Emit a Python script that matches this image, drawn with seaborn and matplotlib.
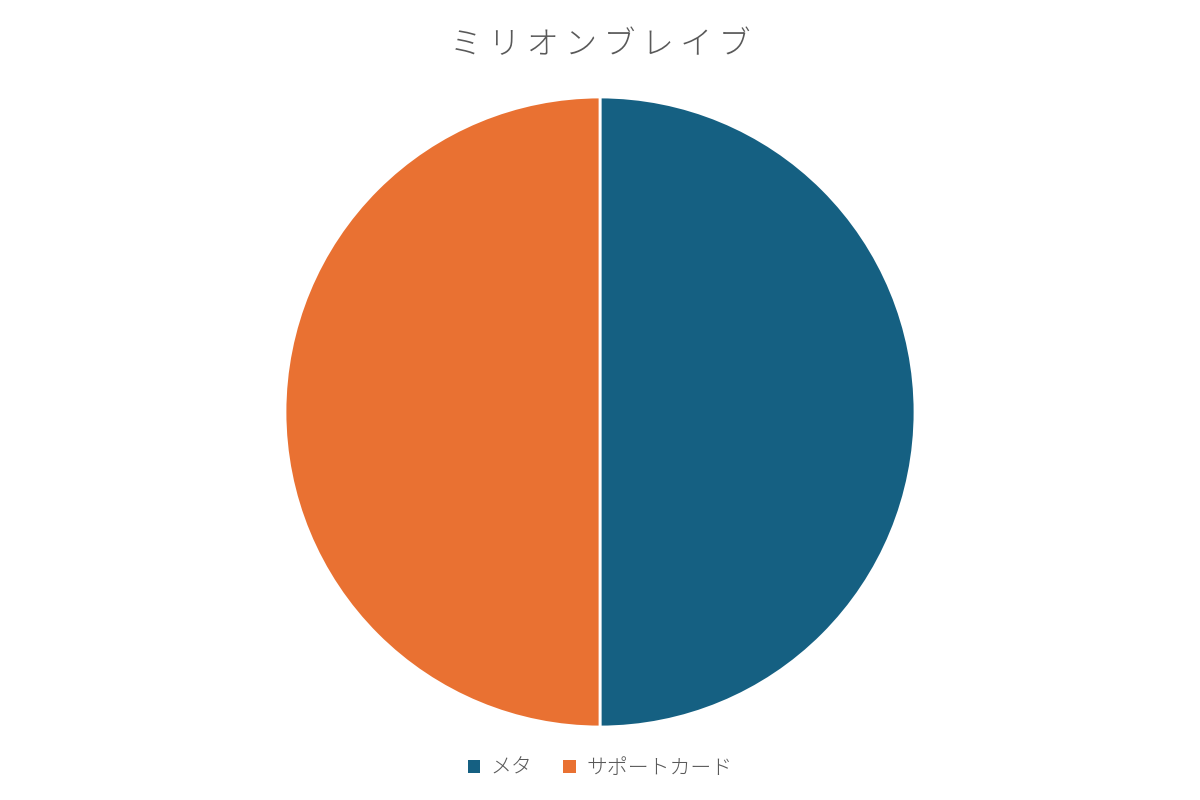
import matplotlib
matplotlib.use("Agg")
import matplotlib.pyplot as plt
import seaborn as sns

# chart data
labels = ["メタ", "サポートカード"]
values = [50, 50]
colors = ["#156082", "#E97132"]
title = "ミリオンブレイブ"

sns.set_theme(style="white")
plt.rcParams["font.family"] = ["Noto Sans CJK JP", "DejaVu Sans"]

fig = plt.figure(figsize=(12, 8), dpi=100)
ax = fig.add_axes([0.2375, 0.09125, 0.525, 0.7875])

wedges, _ = ax.pie(
    values,
    colors=colors,
    startangle=90,
    counterclock=False,
    wedgeprops={"edgecolor": "white", "linewidth": 2},
    radius=1.0,
)
ax.set_xlim(-1.0, 1.0)
ax.set_ylim(-1.0, 1.0)
ax.set_aspect("equal")
ax.axis("off")

# spaced-out title like the office chart style
fig.text(0.5, 0.944, "\u2009".join(title), ha="center", va="center",
         fontsize=23, color="#595959", fontweight="light")

fig.legend(
    wedges, labels,
    loc="center", bbox_to_anchor=(0.5, 0.04),
    ncol=2, frameon=False,
    fontsize=15, labelcolor="#595959",
    handlelength=0.6, handleheight=0.6, handletextpad=0.5,
    columnspacing=1.5,
)
for h in fig.legends[0].legend_handles:
    h.set_edgecolor("none")
for t in fig.legends[0].get_texts():
    t.set_fontweight("light")

fig.savefig("out.png", dpi=100, facecolor="white")
